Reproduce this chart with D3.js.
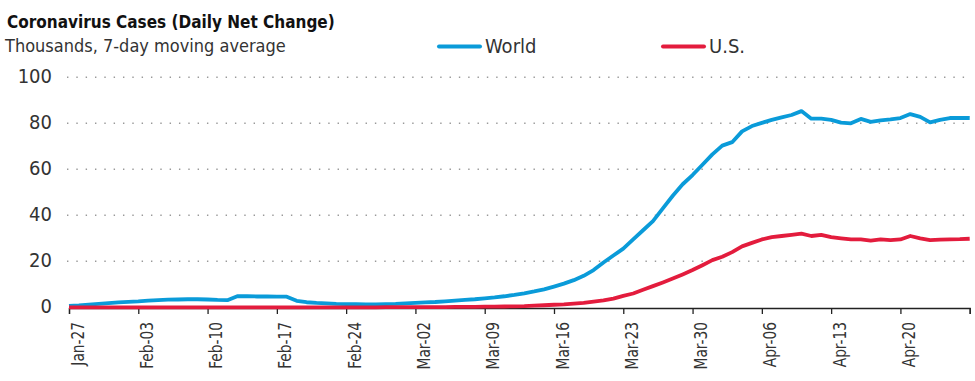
<!DOCTYPE html>
<html>
<head>
    <meta charset="utf-8">
    <style>
        body { margin: 0; background: #fff; }
        text { font-family: "Liberation Sans Narrow", "DejaVu Sans Condensed", sans-serif; fill: #222; }
    </style>
</head>
<body>
    <svg width="975" height="381"></svg>
    <script src="https://d3js.org/d3.v7.min.js"></script>
    <script>
        // daily values, Jan-27 .. Apr-27 (thousands, 7-day moving average)
        let startDate = "2020-01-27";
        let world = [0.6, 0.8, 1.2, 1.5, 1.8, 2.1, 2.4, 2.6, 2.9, 3.1,
                     3.3, 3.4, 3.5, 3.5, 3.4, 3.2, 3.1, 4.8, 4.8, 4.7,
                     4.7, 4.6, 4.6, 2.8, 2.2, 1.9, 1.7, 1.5, 1.4, 1.4,
                     1.3, 1.3, 1.4, 1.5, 1.7, 1.9, 2.1, 2.3, 2.6, 2.9,
                     3.2, 3.5, 3.9, 4.3, 4.8, 5.4, 6.1, 6.9, 7.8, 9.0,
                     10.3, 11.8, 13.7, 16.2, 19.5, 22.5, 25.5, 29.5, 33.5, 37.5,
                     43, 48.5, 53.5, 57.5, 62, 66.5, 70.3, 71.8, 76.5, 78.8,
                     80.2, 81.5, 82.6, 83.6, 85.3, 82, 82, 81.5, 80.3, 80,
                     81.9, 80.6, 81.3, 81.7, 82.3, 84, 82.8, 80.4, 81.5, 82.3,
                     82.4, 82.3];
        let us = [0, 0, 0, 0, 0, 0, 0, 0, 0, 0,
                  0, 0, 0, 0, 0, 0, 0, 0, 0, 0,
                  0, 0, 0, 0, 0, 0, 0, 0, 0, 0,
                  0, 0, 0.05, 0.05, 0.05, 0.1, 0.1, 0.1, 0.1, 0.15,
                  0.2, 0.2, 0.25, 0.3, 0.35, 0.4, 0.5, 0.7, 0.9, 1.1,
                  1.3, 1.6, 1.9, 2.5, 3.0, 3.8, 5.0, 6.0, 7.6, 9.2,
                  10.8, 12.5, 14.3, 16.2, 18.3, 20.5, 22, 24, 26.5, 28,
                  29.5, 30.5, 31, 31.5, 32, 31, 31.5, 30.5, 30, 29.5,
                  29.5, 29, 29.5, 29.2, 29.5, 31, 30, 29.2, 29.4, 29.5,
                  29.6, 29.8];
        let seriesNames = ["World", "U.S."];
        let colors = ["#0a9bd9", "#e31c3d"];
        let yTicks = [0, 20, 40, 60, 80, 100];
        let xTickLabels = ["Jan-27", "Feb-03", "Feb-10", "Feb-17", "Feb-24", "Mar-02", "Mar-09",
                           "Mar-16", "Mar-23", "Mar-30", "Apr-06", "Apr-13", "Apr-20", ""];

        let parse = d3.timeParse("%Y-%m-%d");
        let t0 = parse(startDate);
        let dates = world.map((d, i) => d3.timeDay.offset(t0, i));

        let svg = d3.select("svg");
        let x = d3.scaleTime()
            .domain([t0, d3.timeDay.offset(t0, 91)])
            .range([69, 969.7]);
        let y = d3.scaleLinear().domain([0, 100]).range([307.3, 77.3]);

        // title
        svg.append("text").attr("x", 7).attr("y", 28)
            .style("font-size", "17px").style("font-weight", "bold").style("fill", "#111")
            .text("Coronavirus Cases (Daily Net Change)");
        svg.append("text").attr("x", 5).attr("y", 52)
            .style("font-size", "18px").style("fill", "#333")
            .text("Thousands, 7-day moving average");

        // legend
        let legX = [439, 663];
        seriesNames.forEach(function(name, i) {
            svg.append("line")
                .attr("x1", legX[i]).attr("x2", legX[i] + 41)
                .attr("y1", 46.5).attr("y2", 46.5)
                .attr("stroke", colors[i]).attr("stroke-width", 4)
                .attr("stroke-linecap", "round");
            svg.append("text").attr("x", legX[i] + 46).attr("y", 53)
                .style("font-size", "20px").style("fill", "#333")
                .text(name);
        });

        // y grid + labels
        let yAxis = svg.append("g");
        yAxis.selectAll("line").data(yTicks.filter(d => d > 0)).enter()
            .append("line")
            .attr("x1", 67).attr("x2", 970)
            .attr("y1", d => y(d)).attr("y2", d => y(d))
            .attr("stroke", "#999").attr("stroke-width", 1.4)
            .attr("stroke-dasharray", "1.4,7.93");
        yAxis.selectAll("text").data(yTicks).enter()
            .append("text")
            .attr("x", 52).attr("y", d => y(d) - 1)
            .attr("dy", "0.35em")
            .attr("text-anchor", "end")
            .style("font-size", "20px").style("fill", "#333")
            .text(d => d);

        // x axis
        let tickDates = xTickLabels.map((d, i) => d3.timeDay.offset(t0, i * 7));
        let xAxis = svg.append("g").attr("transform", "translate(0,308)")
            .call(d3.axisBottom(x).tickValues(tickDates).tickSize(6).tickFormat((d, i) => xTickLabels[i]));
        xAxis.select(".domain").attr("stroke", "#222").attr("stroke-width", 1.3);
        xAxis.selectAll(".tick line").attr("stroke", "#222").attr("stroke-width", 1.3);
        xAxis.selectAll(".tick text")
            .attr("text-anchor", "end")
            .attr("transform", "translate(0,14) rotate(-90) scale(0.85,1)")
            .attr("x", 0).attr("y", 14).attr("dy", null)
            .style("font-size", "18px").style("font-family", null).style("fill", "#333");

        // lines
        let line = d3.line().x((d, i) => x(dates[i])).y(d => y(d));
        [world, us].forEach(function(series, i) {
            svg.append("path").datum(series)
                .attr("fill", "none")
                .attr("stroke", colors[i])
                .attr("stroke-width", 3.8)
                .attr("stroke-linejoin", "round")
                .attr("d", line);
        });
    </script>
</body>
</html>
